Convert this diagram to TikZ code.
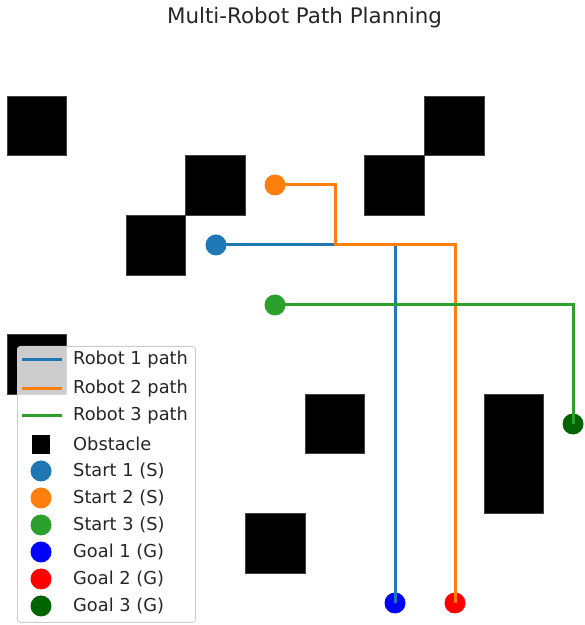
\documentclass[tikz,border=0pt]{standalone}
\usepackage{fontspec}
\setmainfont{DejaVu Sans}
\definecolor{tabblue}{HTML}{1F77B4}
\definecolor{taborange}{HTML}{FF7F0E}
\definecolor{tabgreen}{HTML}{2CA02C}
\definecolor{goalblue}{HTML}{0000FF}
\definecolor{goalred}{HTML}{FF0000}
\definecolor{goalgreen}{HTML}{006400}
\definecolor{legendedge}{HTML}{CCCCCC}
\tikzset{
  obstacle/.style={fill=black, draw=black!75, line width=0.4pt},
  pathline/.style={line width=3pt, line join=miter},
  dot/.style={circle, inner sep=0pt, minimum size=21pt, draw=none},
  legtext/.style={anchor=west, inner sep=0pt, font=\fontsize{17.8}{20}\selectfont, text=black!85},
}
\begin{document}
\begin{tikzpicture}[x=1pt,y=1pt]
\useasboundingbox (0,0) rectangle (585,625);
\fill[white] (0,0) rectangle (585,625);

% title
\node[font=\fontsize{21.4}{24}\selectfont, text=black!85] (title) at (304.5,607) {Multi-Robot Path Planning};

% obstacles (one grid cell is 59.6 units)
\fill[obstacle] (7,529) rectangle (66,470);
\fill[obstacle] (424,529) rectangle (484,470);
\fill[obstacle] (185,470) rectangle (245,410);
\fill[obstacle] (364,470) rectangle (424,410);
\fill[obstacle] (126,410) rectangle (185,350);
\fill[obstacle] (7,291) rectangle (66,231);
\fill[obstacle] (305,231) rectangle (364,172);
\fill[obstacle] (484,231) rectangle (543,112);
\fill[obstacle] (245,112) rectangle (305,52);

% goals
\node[dot, fill=goalblue] (g1) at (395,22) {};
\node[dot, fill=goalred] (g2) at (455,22) {};
\node[dot, fill=goalgreen] (g3) at (573,201) {};

% start positions (placed first so that the paths can refer to them)
\coordinate (s1c) at (216,380);
\coordinate (s2c) at (275,440);
\coordinate (s3c) at (275,320);
\coordinate (w2a) at (335,440);
\coordinate (w2b) at (335,380);

% paths
\draw[pathline, tabblue] (s1c) -- (g1.center |- s1c) -- (g1.center);
\draw[pathline, taborange] (s2c) -- (w2a) -- (w2b) -- (g2.center |- w2b) -- (g2.center);
\draw[pathline, tabgreen] (s3c) -- (g3.center |- s3c) -- (g3.center);

% start markers
\node[dot, fill=tabblue] (s1) at (s1c) {};
\node[dot, fill=taborange] (s2) at (s2c) {};
\node[dot, fill=tabgreen] (s3) at (s3c) {};

% legend
\node[draw=legendedge, fill=white, fill opacity=0.8, rounded corners=3pt, line width=0.8pt,
      minimum width=178pt, minimum height=276pt, anchor=north west, inner sep=0pt] (legend) at (17,279) {};
\foreach \y/\c/\t [count=\i] in {265/tabblue/Robot 1 path, 236/taborange/Robot 2 path, 209/tabgreen/Robot 3 path}{
  \draw[line width=3pt, \c] (22,\y) -- (62,\y);
  \node[legtext] (lt\i) at (73,\y) {\t};
}
\fill[black] (32,171) rectangle (50,190);
\node[legtext] (lob) at (73,181) {Obstacle};
\foreach \y/\c/\t [count=\i] in {154/tabblue/Start 1 (S), 127/taborange/Start 2 (S), 100/tabgreen/Start 3 (S), 73/goalblue/Goal 1 (G), 46/goalred/Goal 2 (G), 19/goalgreen/Goal 3 (G)}{
  \node[dot, fill=\c] (lm\i) at (41,\y) {};
  \node[legtext] (lm\i t) at (73,\y) {\t};
}
\end{tikzpicture}
\end{document}
